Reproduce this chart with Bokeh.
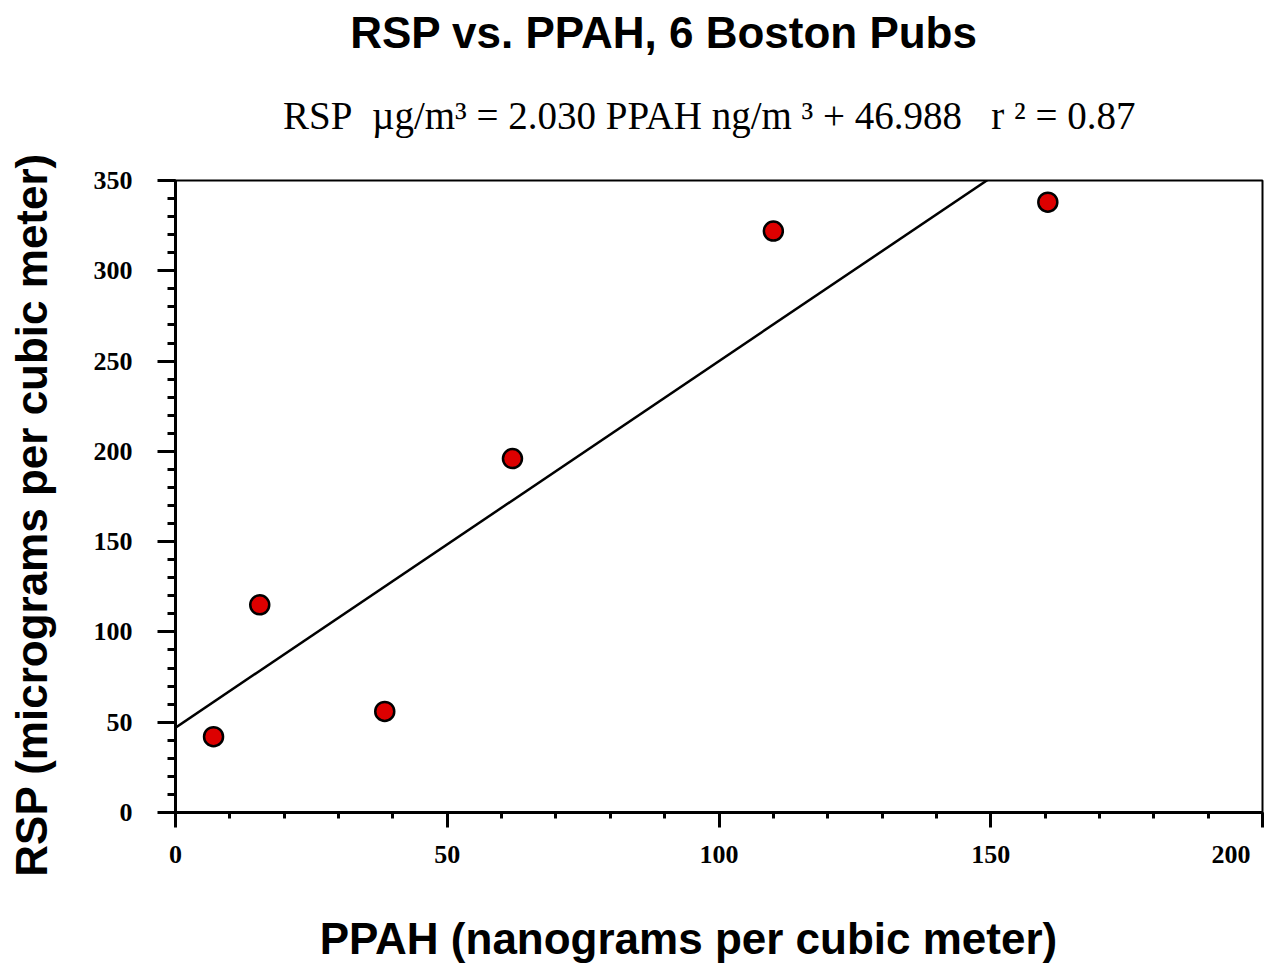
from bokeh.plotting import figure
from bokeh.models import Range1d, FixedTicker, LinearAxis
from bokeh.embed import file_html
from bokeh.resources import INLINE

# ---- data ----
ppah = [7.0, 15.5, 38.5, 62.0, 110.0, 160.5]      # ng/m^3
rsp = [42.0, 115.0, 56.0, 196.0, 322.0, 338.0]     # ug/m^3
slope = 2.030
intercept = 46.988
r_squared = 0.87
x_ticks = [0, 50, 100, 150, 200]
y_ticks = [0, 50, 100, 150, 200, 250, 300, 350]
x_minor = list(range(0, 201, 10))
y_minor = list(range(0, 351, 10))
title_text = "RSP vs. PPAH, 6 Boston Pubs"
sub_text = ("RSP\u00a0 \u00b5g/m\u00b3 = %.3f PPAH ng/m \u00b3 + %.3f\u00a0\u00a0 r \u00b2 = %.2f"
            % (slope, intercept, r_squared))
x_label = "PPAH (nanograms per cubic meter)"
y_label = "RSP (micrograms per cubic meter)"

NB = "\u00a0"  # trailing no-break spaces shift a centred label off-centre

p = figure(width=1276, height=967,
           x_range=Range1d(x_ticks[0], x_ticks[-1]),
           y_range=Range1d(y_ticks[0], y_ticks[-1]),
           output_backend="svg", toolbar_location=None,
           min_border_left=175, min_border_top=180,
           min_border_right=14, min_border_bottom=155)
p.title.text = ""
p.title.standoff = 0
p.background_fill_color = "white"
p.border_fill_color = "white"
p.xgrid.visible = False
p.ygrid.visible = False
p.outline_line_color = "black"
p.outline_line_width = 2

# regression line (clipped to the frame)
fit_x = [x_ticks[0], x_ticks[-1]]
fit_y = [slope * v + intercept for v in fit_x]
p.line(fit_x, fit_y, line_color="black", line_width=2.5)

p.scatter(ppah, rsp, marker="circle", size=19, fill_color="#DD0000",
          line_color="black", line_width=2.5)

# axes
for ax, ticks, minor, tout, mout, stand in (
        (p.xaxis[0], x_ticks, x_minor, 15, 6, 12),
        (p.yaxis[0], y_ticks, y_minor, 18, 8, 25)):
    ax.ticker = FixedTicker(ticks=ticks, minor_ticks=minor)
    ax.axis_line_width = 3
    ax.axis_line_color = "black"
    ax.major_tick_line_width = 3
    ax.minor_tick_line_width = 3
    ax.major_tick_in = 0
    ax.major_tick_out = tout
    ax.minor_tick_in = 0
    ax.minor_tick_out = mout
    ax.major_label_text_font = "Liberation Serif"
    ax.major_label_text_font_style = "bold"
    ax.major_label_text_font_size = "26px"
    ax.major_label_text_color = "black"
    ax.major_label_standoff = stand
    ax.axis_label_text_font = "Liberation Sans"
    ax.axis_label_text_font_style = "bold"
    ax.axis_label_text_font_size = "44px"
    ax.axis_label_text_color = "black"
p.xaxis.major_label_overrides = {200: "200\u2007\u2007"}
p.xaxis.axis_label = x_label + NB * 5
p.xaxis.axis_label_standoff = 42
p.yaxis.axis_label = y_label + NB * 3
p.yaxis.axis_label_standoff = 35


def text_axis(label, font, style, size, standoff):
    ax = LinearAxis(ticker=FixedTicker(ticks=[], minor_ticks=[]),
                    axis_line_color=None, major_tick_out=0, major_tick_in=0,
                    minor_tick_out=0, minor_tick_in=0, major_label_standoff=0,
                    major_label_text_font_size="0px",
                    axis_label=label, axis_label_text_font=font,
                    axis_label_text_font_style=style,
                    axis_label_text_font_size=size,
                    axis_label_text_color="black",
                    axis_label_standoff=standoff)
    p.add_layout(ax, "above")


# subtitle (nearest the frame), then the main title above it
text_axis(sub_text + NB * 2, "Liberation Serif", "normal", "39px", 44)
text_axis(title_text + NB * 9, "Liberation Sans", "bold", "44px", 34)

open("out.html", "w").write(file_html(p, INLINE))
